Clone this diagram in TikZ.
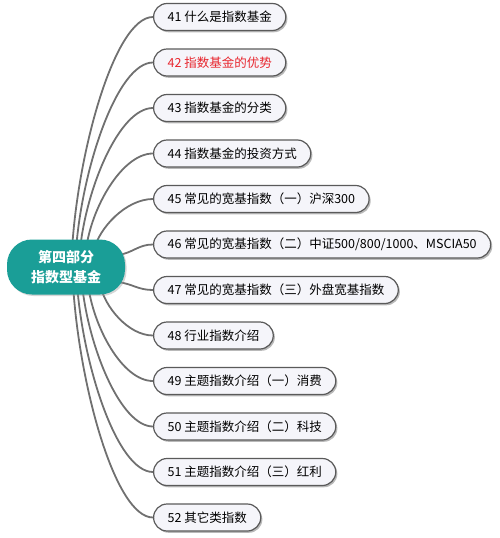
\documentclass[tikz,border=0pt]{standalone}
\usepackage{fontspec}
\setmainfont{Noto Sans CJK SC}
\usepackage{xcolor}
\usetikzlibrary{positioning,shadows,backgrounds}

\definecolor{rootteal}{HTML}{1A9E97}
\definecolor{leafborder}{HTML}{5A5A5A}
\definecolor{leaffill}{HTML}{F5F5FA}
\definecolor{linkgray}{HTML}{707070}
\definecolor{hotred}{HTML}{E8262E}

\begin{document}
\begin{tikzpicture}[
    x=1pt, y=-1pt,
    node distance=45.5pt,
    leaf/.style={draw=leafborder, line width=1.2pt, fill=leaffill, rounded corners=13.5pt, minimum height=27pt, inner xsep=14pt, font=\fontsize{12.5}{14}\selectfont, drop shadow={shadow xshift=1.6pt, shadow yshift=-1.8pt, fill=black!50, opacity=.55}},
    root/.style={fill=rootteal, rounded corners=25pt, minimum width=118pt, minimum height=55pt, align=center, text=white, font=\fontsize{14}{19.5}\selectfont\bfseries, drop shadow={shadow xshift=1.5pt, shadow yshift=-1.5pt, fill=black!40, opacity=.4}},
    link/.style={draw=linkgray, line width=1.8pt}
  ]
    \useasboundingbox (0,0) rectangle (500,538);

    % topics
    \node[leaf, anchor=west] (n41) at (153,17) {41 什么是指数基金};
    \node[leaf, below=of n41.west, anchor=west, text=hotred] (n42) {42 指数基金的优势};
    \node[leaf, below=of n42.west, anchor=west] (n43) {43 指数基金的分类};
    \node[leaf, below=of n43.west, anchor=west] (n44) {44 指数基金的投资方式};
    \node[leaf, below=of n44.west, anchor=west] (n45) {45 常见的宽基指数（一）沪深300};
    \node[leaf, below=of n45.west, anchor=west] (n46) {46 常见的宽基指数（二）中证500/800/1000、MSCIA50};
    \node[leaf, below=of n46.west, anchor=west] (n47) {47 常见的宽基指数（三）外盘宽基指数};
    \node[leaf, below=of n47.west, anchor=west] (n48) {48 行业指数介绍};
    \node[leaf, below=of n48.west, anchor=west] (n49) {49 主题指数介绍（一）消费};
    \node[leaf, below=of n49.west, anchor=west] (n50) {50 主题指数介绍（二）科技};
    \node[leaf, below=of n50.west, anchor=west] (n51) {51 主题指数介绍（三）红利};
    \node[leaf, below=of n51.west, anchor=west] (n52) {52 其它类指数};

    \node[root] (root) at (66,267) {第四部分\\指数型基金};

    \begin{scope}[on background layer]
      % upper branches
      \draw[link] (root.center) ++(6,-17) .. controls +(6,-100) and +(-38,0) .. (n41.west);
      \draw[link] (root.center) ++(10,-17) .. controls +(6,-81) and +(-36,0) .. (n42.west);
      \draw[link] (root.center) ++(14,-17) .. controls +(6,-61) and +(-34,0) .. (n43.west);
      \draw[link] (root.center) ++(20,-17) .. controls +(5,-42) and +(-31,0) .. (n44.west);
      \draw[link] (root.center) ++(28,-17) .. controls +(5,-22) and +(-27,0) .. (n45.west);
      % side branches
      \draw[link] (root.center) ++(52,-12) .. controls +(15,-2) and +(-15,0) .. (n46.west);
      \draw[link] (root.center) ++(52,15) .. controls +(15,2) and +(-15,0) .. (n47.west);
      % lower branches
      \draw[link] (root.center) ++(34,17) .. controls +(4,22) and +(-25,0) .. (n48.west);
      \draw[link] (root.center) ++(22,17) .. controls +(5,42) and +(-31,0) .. (n49.west);
      \draw[link] (root.center) ++(16,17) .. controls +(6,61) and +(-33,0) .. (n50.west);
      \draw[link] (root.center) ++(11,17) .. controls +(6,81) and +(-36,0) .. (n51.west);
      \draw[link] (root.center) ++(7,17) .. controls +(6,100) and +(-38,0) .. (n52.west);
    \end{scope}
  \end{tikzpicture}
\end{document}
